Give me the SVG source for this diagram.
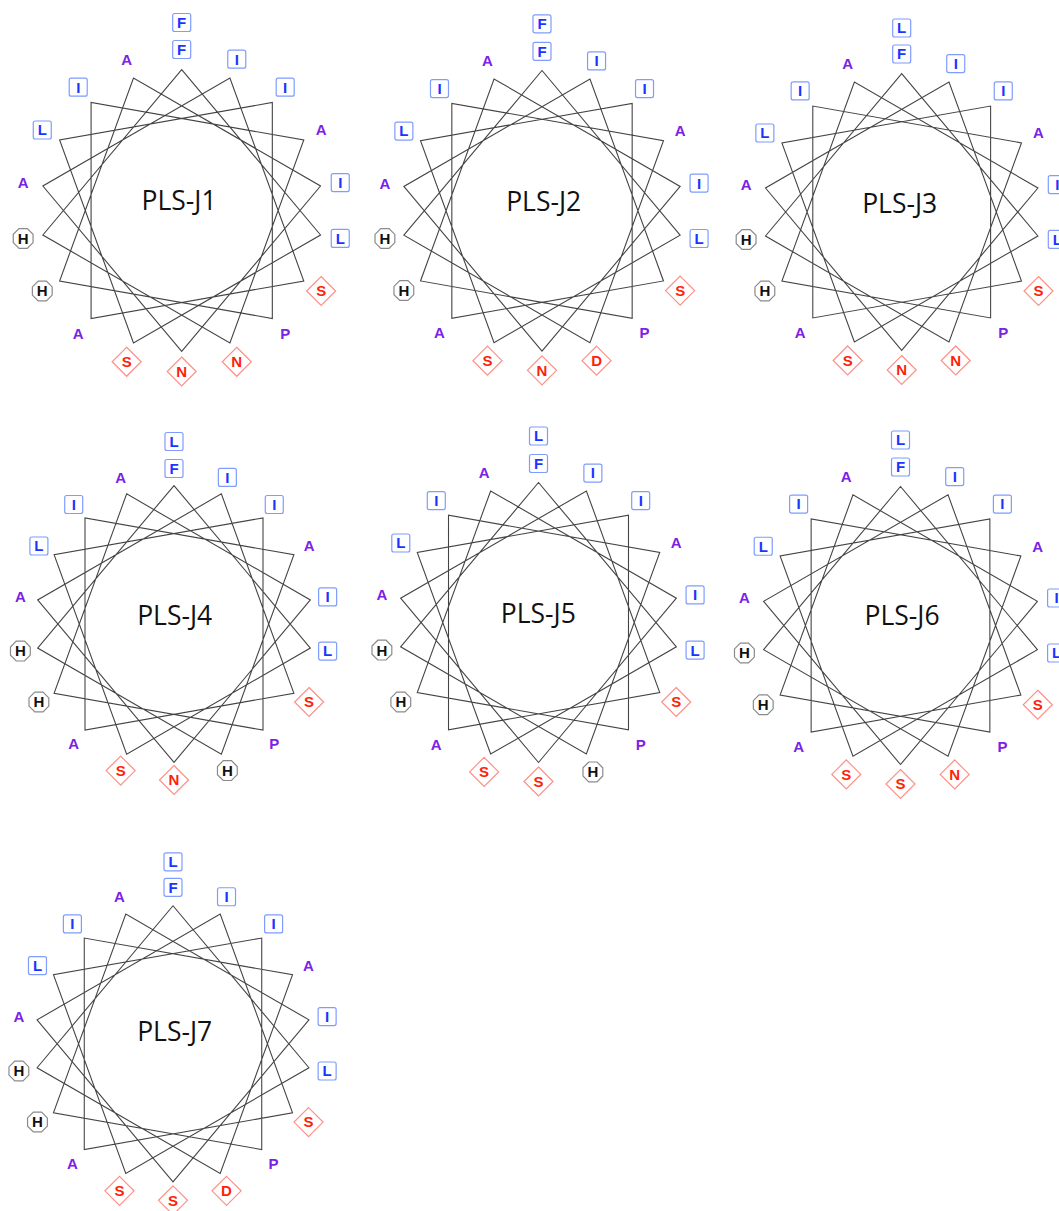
<svg xmlns="http://www.w3.org/2000/svg" xmlns:xlink="http://www.w3.org/1999/xlink" width="1059" height="1211" viewBox="0 0 1059 1211">
<style>
text{font-family:"Liberation Sans",Arial,sans-serif;font-size:15px;font-weight:bold;text-anchor:middle}
.h{fill:#1a35ff}
.p{fill:#7b22e6}
.c{fill:#111}
.r{fill:#ff1f0a}
.t{font-family:"Open Sans","Liberation Sans",sans-serif;font-size:26.5px;font-weight:normal;fill:#111}
.bx{fill:#fff;stroke:#7f9cff;stroke-width:1.2}
.oc{fill:#fff;stroke:#8a8a8a;stroke-width:1.2}
.dm{fill:#fff;stroke:#ff8f86;stroke-width:1.2}
.star{fill:none;stroke:#444;stroke-width:1.1;stroke-linejoin:miter}
</style>
<defs>
<polygon id="star" class="star" points="0,-140 137.87,24.31 -47.88,131.56 -121.24,-70 89.99,-107.25 89.99,107.25 -121.24,70 -47.88,-131.56 137.87,-24.31 0,140 -137.87,-24.31 47.88,-131.56 121.24,70 -89.99,107.25 -89.99,-107.25 121.24,-70 47.88,131.56 -137.87,24.31"/>
<rect id="bx" class="bx" x="-9" y="-9" width="18" height="18" rx="2"/>
<polygon id="oc" class="oc" points="9.9,4.1 4.1,9.9 -4.1,9.9 -9.9,4.1 -9.9,-4.1 -4.1,-9.9 4.1,-9.9 9.9,-4.1"/>
<polygon id="dm" class="dm" points="0,-14.5 14.5,0 0,14.5 -14.5,0"/>
</defs>
<rect width="1059" height="1211" fill="#fff"/>

<g id="pls-j1" transform="translate(181.7,210.5)">
<g id="j1-connectors"><use href="#star" transform="scale(1.007)"/></g>
<text class="t" x="-2.7" y="-1">PLS-J1</text>
<g id="j1-a0" transform="translate(0,-161)"><use href="#bx"/><text class="h" y="5.4">F</text></g>
<g id="j1-a0o" transform="translate(0,-188)"><use href="#bx"/><text class="h" y="5.4">F</text></g>
<g id="j1-a20" transform="rotate(20) translate(0,-161) rotate(-20)"><use href="#bx"/><text class="h" y="5.4">I</text></g>
<g id="j1-a40" transform="rotate(40) translate(0,-161) rotate(-40)"><use href="#bx"/><text class="h" y="5.4">I</text></g>
<g id="j1-a60" transform="rotate(60) translate(0,-161) rotate(-60)"><text class="p" y="5.4">A</text></g>
<g id="j1-a80" transform="rotate(80) translate(0,-161) rotate(-80)"><use href="#bx"/><text class="h" y="5.4">I</text></g>
<g id="j1-a100" transform="rotate(100) translate(0,-161) rotate(-100)"><use href="#bx"/><text class="h" y="5.4">L</text></g>
<g id="j1-a120" transform="rotate(120) translate(0,-161) rotate(-120)"><use href="#dm"/><text class="r" y="5.4">S</text></g>
<g id="j1-a140" transform="rotate(140) translate(0,-161) rotate(-140)"><text class="p" y="5.4">P</text></g>
<g id="j1-a160" transform="rotate(160) translate(0,-161) rotate(-160)"><use href="#dm"/><text class="r" y="5.4">N</text></g>
<g id="j1-a180" transform="rotate(180) translate(0,-161) rotate(-180)"><use href="#dm"/><text class="r" y="5.4">N</text></g>
<g id="j1-a200" transform="rotate(200) translate(0,-161) rotate(-200)"><use href="#dm"/><text class="r" y="5.4">S</text></g>
<g id="j1-a220" transform="rotate(220) translate(0,-161) rotate(-220)"><text class="p" y="5.4">A</text></g>
<g id="j1-a240" transform="rotate(240) translate(0,-161) rotate(-240)"><use href="#oc"/><text class="c" y="5.4">H</text></g>
<g id="j1-a260" transform="rotate(260) translate(0,-161) rotate(-260)"><use href="#oc"/><text class="c" y="5.4">H</text></g>
<g id="j1-a280" transform="rotate(280) translate(0,-161) rotate(-280)"><text class="p" y="5.4">A</text></g>
<g id="j1-a300" transform="rotate(300) translate(0,-161) rotate(-300)"><use href="#bx"/><text class="h" y="5.4">L</text></g>
<g id="j1-a320" transform="rotate(320) translate(0,-161) rotate(-320)"><use href="#bx"/><text class="h" y="5.4">I</text></g>
<g id="j1-a340" transform="rotate(340) translate(0,-161) rotate(-340)"><text class="p" y="5.4">A</text></g>
</g>

<g id="pls-j2" transform="translate(542,210.8)">
<g id="j2-connectors"><use href="#star" transform="scale(1.002)"/></g>
<text class="t" x="1.7" y="0">PLS-J2</text>
<g id="j2-a0" transform="translate(0,-159.5)"><use href="#bx"/><text class="h" y="5.4">F</text></g>
<g id="j2-a0o" transform="translate(0,-187)"><use href="#bx"/><text class="h" y="5.4">F</text></g>
<g id="j2-a20" transform="rotate(20) translate(0,-159.5) rotate(-20)"><use href="#bx"/><text class="h" y="5.4">I</text></g>
<g id="j2-a40" transform="rotate(40) translate(0,-159.5) rotate(-40)"><use href="#bx"/><text class="h" y="5.4">I</text></g>
<g id="j2-a60" transform="rotate(60) translate(0,-159.5) rotate(-60)"><text class="p" y="5.4">A</text></g>
<g id="j2-a80" transform="rotate(80) translate(0,-159.5) rotate(-80)"><use href="#bx"/><text class="h" y="5.4">I</text></g>
<g id="j2-a100" transform="rotate(100) translate(0,-159.5) rotate(-100)"><use href="#bx"/><text class="h" y="5.4">L</text></g>
<g id="j2-a120" transform="rotate(120) translate(0,-159.5) rotate(-120)"><use href="#dm"/><text class="r" y="5.4">S</text></g>
<g id="j2-a140" transform="rotate(140) translate(0,-159.5) rotate(-140)"><text class="p" y="5.4">P</text></g>
<g id="j2-a160" transform="rotate(160) translate(0,-159.5) rotate(-160)"><use href="#dm"/><text class="r" y="5.4">D</text></g>
<g id="j2-a180" transform="rotate(180) translate(0,-159.5) rotate(-180)"><use href="#dm"/><text class="r" y="5.4">N</text></g>
<g id="j2-a200" transform="rotate(200) translate(0,-159.5) rotate(-200)"><use href="#dm"/><text class="r" y="5.4">S</text></g>
<g id="j2-a220" transform="rotate(220) translate(0,-159.5) rotate(-220)"><text class="p" y="5.4">A</text></g>
<g id="j2-a240" transform="rotate(240) translate(0,-159.5) rotate(-240)"><use href="#oc"/><text class="c" y="5.4">H</text></g>
<g id="j2-a260" transform="rotate(260) translate(0,-159.5) rotate(-260)"><use href="#oc"/><text class="c" y="5.4">H</text></g>
<g id="j2-a280" transform="rotate(280) translate(0,-159.5) rotate(-280)"><text class="p" y="5.4">A</text></g>
<g id="j2-a300" transform="rotate(300) translate(0,-159.5) rotate(-300)"><use href="#bx"/><text class="h" y="5.4">L</text></g>
<g id="j2-a320" transform="rotate(320) translate(0,-159.5) rotate(-320)"><use href="#bx"/><text class="h" y="5.4">I</text></g>
<g id="j2-a340" transform="rotate(340) translate(0,-159.5) rotate(-340)"><text class="p" y="5.4">A</text></g>
</g>

<g id="pls-j3" transform="translate(901.7,212)">
<g id="j3-connectors"><use href="#star" transform="scale(0.988)"/></g>
<text class="t" x="-2" y="0.5">PLS-J3</text>
<g id="j3-a0" transform="translate(0,-158)"><use href="#bx"/><text class="h" y="5.4">F</text></g>
<g id="j3-a0o" transform="translate(0,-184)"><use href="#bx"/><text class="h" y="5.4">L</text></g>
<g id="j3-a20" transform="rotate(20) translate(0,-158) rotate(-20)"><use href="#bx"/><text class="h" y="5.4">I</text></g>
<g id="j3-a40" transform="rotate(40) translate(0,-158) rotate(-40)"><use href="#bx"/><text class="h" y="5.4">I</text></g>
<g id="j3-a60" transform="rotate(60) translate(0,-158) rotate(-60)"><text class="p" y="5.4">A</text></g>
<g id="j3-a80" transform="rotate(80) translate(0,-158) rotate(-80)"><use href="#bx"/><text class="h" y="5.4">I</text></g>
<g id="j3-a100" transform="rotate(100) translate(0,-158) rotate(-100)"><use href="#bx"/><text class="h" y="5.4">L</text></g>
<g id="j3-a120" transform="rotate(120) translate(0,-158) rotate(-120)"><use href="#dm"/><text class="r" y="5.4">S</text></g>
<g id="j3-a140" transform="rotate(140) translate(0,-158) rotate(-140)"><text class="p" y="5.4">P</text></g>
<g id="j3-a160" transform="rotate(160) translate(0,-158) rotate(-160)"><use href="#dm"/><text class="r" y="5.4">N</text></g>
<g id="j3-a180" transform="rotate(180) translate(0,-158) rotate(-180)"><use href="#dm"/><text class="r" y="5.4">N</text></g>
<g id="j3-a200" transform="rotate(200) translate(0,-158) rotate(-200)"><use href="#dm"/><text class="r" y="5.4">S</text></g>
<g id="j3-a220" transform="rotate(220) translate(0,-158) rotate(-220)"><text class="p" y="5.4">A</text></g>
<g id="j3-a240" transform="rotate(240) translate(0,-158) rotate(-240)"><use href="#oc"/><text class="c" y="5.4">H</text></g>
<g id="j3-a260" transform="rotate(260) translate(0,-158) rotate(-260)"><use href="#oc"/><text class="c" y="5.4">H</text></g>
<g id="j3-a280" transform="rotate(280) translate(0,-158) rotate(-280)"><text class="p" y="5.4">A</text></g>
<g id="j3-a300" transform="rotate(300) translate(0,-158) rotate(-300)"><use href="#bx"/><text class="h" y="5.4">L</text></g>
<g id="j3-a320" transform="rotate(320) translate(0,-158) rotate(-320)"><use href="#bx"/><text class="h" y="5.4">I</text></g>
<g id="j3-a340" transform="rotate(340) translate(0,-158) rotate(-340)"><text class="p" y="5.4">A</text></g>
</g>

<g id="pls-j4" transform="translate(174,624)">
<g id="j4-connectors"><use href="#star" transform="scale(0.989)"/></g>
<text class="t" x="0.7" y="0.5">PLS-J4</text>
<g id="j4-a0" transform="translate(0,-155.5)"><use href="#bx"/><text class="h" y="5.4">F</text></g>
<g id="j4-a0o" transform="translate(0,-182.5)"><use href="#bx"/><text class="h" y="5.4">L</text></g>
<g id="j4-a20" transform="rotate(20) translate(0,-156) rotate(-20)"><use href="#bx"/><text class="h" y="5.4">I</text></g>
<g id="j4-a40" transform="rotate(40) translate(0,-156) rotate(-40)"><use href="#bx"/><text class="h" y="5.4">I</text></g>
<g id="j4-a60" transform="rotate(60) translate(0,-156) rotate(-60)"><text class="p" y="5.4">A</text></g>
<g id="j4-a80" transform="rotate(80) translate(0,-156) rotate(-80)"><use href="#bx"/><text class="h" y="5.4">I</text></g>
<g id="j4-a100" transform="rotate(100) translate(0,-156) rotate(-100)"><use href="#bx"/><text class="h" y="5.4">L</text></g>
<g id="j4-a120" transform="rotate(120) translate(0,-156) rotate(-120)"><use href="#dm"/><text class="r" y="5.4">S</text></g>
<g id="j4-a140" transform="rotate(140) translate(0,-156) rotate(-140)"><text class="p" y="5.4">P</text></g>
<g id="j4-a160" transform="rotate(160) translate(0,-156) rotate(-160)"><use href="#oc"/><text class="c" y="5.4">H</text></g>
<g id="j4-a180" transform="rotate(180) translate(0,-156) rotate(-180)"><use href="#dm"/><text class="r" y="5.4">N</text></g>
<g id="j4-a200" transform="rotate(200) translate(0,-156) rotate(-200)"><use href="#dm"/><text class="r" y="5.4">S</text></g>
<g id="j4-a220" transform="rotate(220) translate(0,-156) rotate(-220)"><text class="p" y="5.4">A</text></g>
<g id="j4-a240" transform="rotate(240) translate(0,-156) rotate(-240)"><use href="#oc"/><text class="c" y="5.4">H</text></g>
<g id="j4-a260" transform="rotate(260) translate(0,-156) rotate(-260)"><use href="#oc"/><text class="c" y="5.4">H</text></g>
<g id="j4-a280" transform="rotate(280) translate(0,-156) rotate(-280)"><text class="p" y="5.4">A</text></g>
<g id="j4-a300" transform="rotate(300) translate(0,-156) rotate(-300)"><use href="#bx"/><text class="h" y="5.4">L</text></g>
<g id="j4-a320" transform="rotate(320) translate(0,-156) rotate(-320)"><use href="#bx"/><text class="h" y="5.4">I</text></g>
<g id="j4-a340" transform="rotate(340) translate(0,-156) rotate(-340)"><text class="p" y="5.4">A</text></g>
</g>

<g id="pls-j5" transform="translate(538.5,622.5)">
<g id="j5-connectors"><use href="#star"/></g>
<text class="t" x="-0.2" y="0.8">PLS-J5</text>
<g id="j5-a0" transform="translate(0,-159)"><use href="#bx"/><text class="h" y="5.4">F</text></g>
<g id="j5-a0o" transform="translate(0,-186.5)"><use href="#bx"/><text class="h" y="5.4">L</text></g>
<g id="j5-a20" transform="rotate(20) translate(0,-159) rotate(-20)"><use href="#bx"/><text class="h" y="5.4">I</text></g>
<g id="j5-a40" transform="rotate(40) translate(0,-159) rotate(-40)"><use href="#bx"/><text class="h" y="5.4">I</text></g>
<g id="j5-a60" transform="rotate(60) translate(0,-159) rotate(-60)"><text class="p" y="5.4">A</text></g>
<g id="j5-a80" transform="rotate(80) translate(0,-159) rotate(-80)"><use href="#bx"/><text class="h" y="5.4">I</text></g>
<g id="j5-a100" transform="rotate(100) translate(0,-159) rotate(-100)"><use href="#bx"/><text class="h" y="5.4">L</text></g>
<g id="j5-a120" transform="rotate(120) translate(0,-159) rotate(-120)"><use href="#dm"/><text class="r" y="5.4">S</text></g>
<g id="j5-a140" transform="rotate(140) translate(0,-159) rotate(-140)"><text class="p" y="5.4">P</text></g>
<g id="j5-a160" transform="rotate(160) translate(0,-159) rotate(-160)"><use href="#oc"/><text class="c" y="5.4">H</text></g>
<g id="j5-a180" transform="rotate(180) translate(0,-159) rotate(-180)"><use href="#dm"/><text class="r" y="5.4">S</text></g>
<g id="j5-a200" transform="rotate(200) translate(0,-159) rotate(-200)"><use href="#dm"/><text class="r" y="5.4">S</text></g>
<g id="j5-a220" transform="rotate(220) translate(0,-159) rotate(-220)"><text class="p" y="5.4">A</text></g>
<g id="j5-a240" transform="rotate(240) translate(0,-159) rotate(-240)"><use href="#oc"/><text class="c" y="5.4">H</text></g>
<g id="j5-a260" transform="rotate(260) translate(0,-159) rotate(-260)"><use href="#oc"/><text class="c" y="5.4">H</text></g>
<g id="j5-a280" transform="rotate(280) translate(0,-159) rotate(-280)"><text class="p" y="5.4">A</text></g>
<g id="j5-a300" transform="rotate(300) translate(0,-159) rotate(-300)"><use href="#bx"/><text class="h" y="5.4">L</text></g>
<g id="j5-a320" transform="rotate(320) translate(0,-159) rotate(-320)"><use href="#bx"/><text class="h" y="5.4">I</text></g>
<g id="j5-a340" transform="rotate(340) translate(0,-159) rotate(-340)"><text class="p" y="5.4">A</text></g>
</g>

<g id="pls-j6" transform="translate(900.5,625.5)">
<g id="j6-connectors"><use href="#star" transform="scale(0.993)"/></g>
<text class="t" x="1.5" y="-1">PLS-J6</text>
<g id="j6-a0" transform="translate(0,-158.5)"><use href="#bx"/><text class="h" y="5.4">F</text></g>
<g id="j6-a0o" transform="translate(0,-185.5)"><use href="#bx"/><text class="h" y="5.4">L</text></g>
<g id="j6-a20" transform="rotate(20) translate(0,-158.5) rotate(-20)"><use href="#bx"/><text class="h" y="5.4">I</text></g>
<g id="j6-a40" transform="rotate(40) translate(0,-158.5) rotate(-40)"><use href="#bx"/><text class="h" y="5.4">I</text></g>
<g id="j6-a60" transform="rotate(60) translate(0,-158.5) rotate(-60)"><text class="p" y="5.4">A</text></g>
<g id="j6-a80" transform="rotate(80) translate(0,-158.5) rotate(-80)"><use href="#bx"/><text class="h" y="5.4">I</text></g>
<g id="j6-a100" transform="rotate(100) translate(0,-158.5) rotate(-100)"><use href="#bx"/><text class="h" y="5.4">L</text></g>
<g id="j6-a120" transform="rotate(120) translate(0,-158.5) rotate(-120)"><use href="#dm"/><text class="r" y="5.4">S</text></g>
<g id="j6-a140" transform="rotate(140) translate(0,-158.5) rotate(-140)"><text class="p" y="5.4">P</text></g>
<g id="j6-a160" transform="rotate(160) translate(0,-158.5) rotate(-160)"><use href="#dm"/><text class="r" y="5.4">N</text></g>
<g id="j6-a180" transform="rotate(180) translate(0,-158.5) rotate(-180)"><use href="#dm"/><text class="r" y="5.4">S</text></g>
<g id="j6-a200" transform="rotate(200) translate(0,-158.5) rotate(-200)"><use href="#dm"/><text class="r" y="5.4">S</text></g>
<g id="j6-a220" transform="rotate(220) translate(0,-158.5) rotate(-220)"><text class="p" y="5.4">A</text></g>
<g id="j6-a240" transform="rotate(240) translate(0,-158.5) rotate(-240)"><use href="#oc"/><text class="c" y="5.4">H</text></g>
<g id="j6-a260" transform="rotate(260) translate(0,-158.5) rotate(-260)"><use href="#oc"/><text class="c" y="5.4">H</text></g>
<g id="j6-a280" transform="rotate(280) translate(0,-158.5) rotate(-280)"><text class="p" y="5.4">A</text></g>
<g id="j6-a300" transform="rotate(300) translate(0,-158.5) rotate(-300)"><use href="#bx"/><text class="h" y="5.4">L</text></g>
<g id="j6-a320" transform="rotate(320) translate(0,-158.5) rotate(-320)"><use href="#bx"/><text class="h" y="5.4">I</text></g>
<g id="j6-a340" transform="rotate(340) translate(0,-158.5) rotate(-340)"><text class="p" y="5.4">A</text></g>
</g>

<g id="pls-j7" transform="translate(173,1043.8)">
<g id="j7-connectors"><use href="#star" transform="scale(0.986)"/></g>
<text class="t" x="1.7" y="-3">PLS-J7</text>
<g id="j7-a0" transform="translate(0,-156.5)"><use href="#bx"/><text class="h" y="5.4">F</text></g>
<g id="j7-a0o" transform="translate(0,-182)"><use href="#bx"/><text class="h" y="5.4">L</text></g>
<g id="j7-a20" transform="rotate(20) translate(0,-156.5) rotate(-20)"><use href="#bx"/><text class="h" y="5.4">I</text></g>
<g id="j7-a40" transform="rotate(40) translate(0,-156.5) rotate(-40)"><use href="#bx"/><text class="h" y="5.4">I</text></g>
<g id="j7-a60" transform="rotate(60) translate(0,-156.5) rotate(-60)"><text class="p" y="5.4">A</text></g>
<g id="j7-a80" transform="rotate(80) translate(0,-156.5) rotate(-80)"><use href="#bx"/><text class="h" y="5.4">I</text></g>
<g id="j7-a100" transform="rotate(100) translate(0,-156.5) rotate(-100)"><use href="#bx"/><text class="h" y="5.4">L</text></g>
<g id="j7-a120" transform="rotate(120) translate(0,-156.5) rotate(-120)"><use href="#dm"/><text class="r" y="5.4">S</text></g>
<g id="j7-a140" transform="rotate(140) translate(0,-156.5) rotate(-140)"><text class="p" y="5.4">P</text></g>
<g id="j7-a160" transform="rotate(160) translate(0,-156.5) rotate(-160)"><use href="#dm"/><text class="r" y="5.4">D</text></g>
<g id="j7-a180" transform="rotate(180) translate(0,-156.5) rotate(-180)"><use href="#dm"/><text class="r" y="5.4">S</text></g>
<g id="j7-a200" transform="rotate(200) translate(0,-156.5) rotate(-200)"><use href="#dm"/><text class="r" y="5.4">S</text></g>
<g id="j7-a220" transform="rotate(220) translate(0,-156.5) rotate(-220)"><text class="p" y="5.4">A</text></g>
<g id="j7-a240" transform="rotate(240) translate(0,-156.5) rotate(-240)"><use href="#oc"/><text class="c" y="5.4">H</text></g>
<g id="j7-a260" transform="rotate(260) translate(0,-156.5) rotate(-260)"><use href="#oc"/><text class="c" y="5.4">H</text></g>
<g id="j7-a280" transform="rotate(280) translate(0,-156.5) rotate(-280)"><text class="p" y="5.4">A</text></g>
<g id="j7-a300" transform="rotate(300) translate(0,-156.5) rotate(-300)"><use href="#bx"/><text class="h" y="5.4">L</text></g>
<g id="j7-a320" transform="rotate(320) translate(0,-156.5) rotate(-320)"><use href="#bx"/><text class="h" y="5.4">I</text></g>
<g id="j7-a340" transform="rotate(340) translate(0,-156.5) rotate(-340)"><text class="p" y="5.4">A</text></g>
</g>
</svg>
